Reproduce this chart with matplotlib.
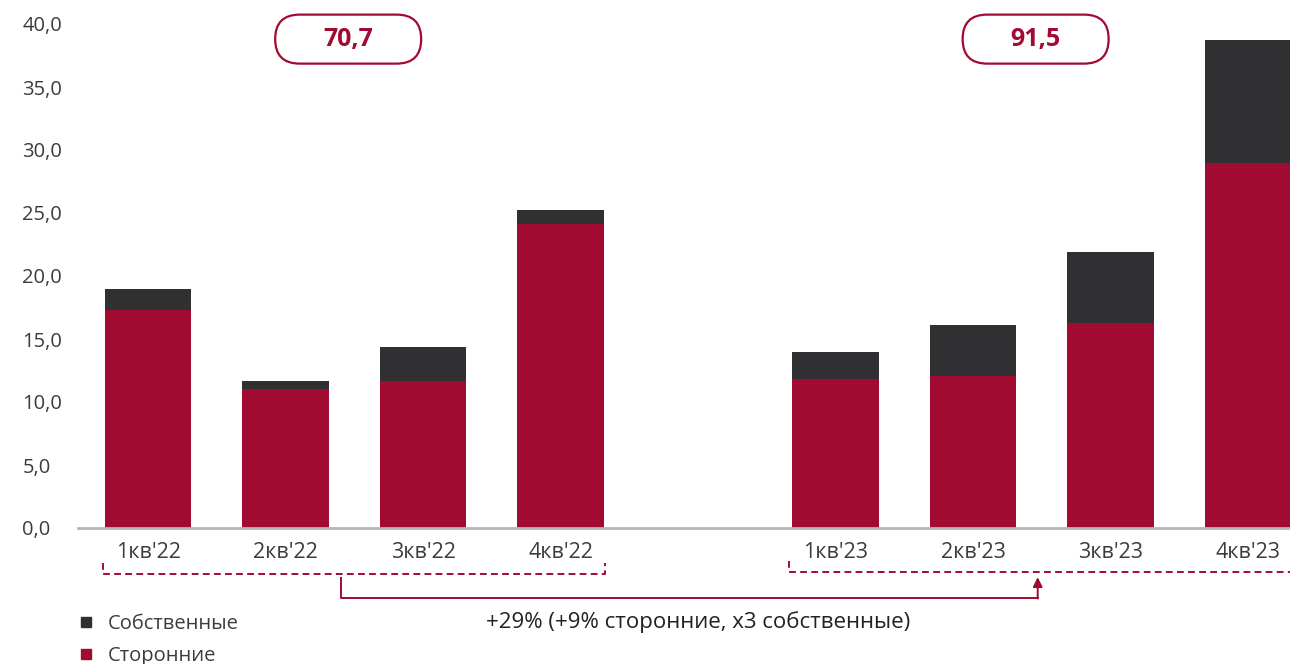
import matplotlib
matplotlib.use("Agg")
import matplotlib.pyplot as plt
import matplotlib.transforms as mtransforms
from matplotlib.patches import FancyBboxPatch
from matplotlib.lines import Line2D
import numpy as np

plt.rcParams["font.family"] = ["Open Sans", "DejaVu Sans"]

quarters_22 = ["1кв'22", "2кв'22", "3кв'22", "4кв'22"]
quarters_23 = ["1кв'23", "2кв'23", "3кв'23", "4кв'23"]
third_party_22 = [17.3, 11.0, 11.7, 24.1]
own_22 = [1.7, 0.7, 2.7, 1.1]
third_party_23 = [11.8, 12.1, 16.3, 29.0]
own_23 = [2.2, 4.0, 5.6, 9.7]
year_totals = ["70,7", "91,5"]
growth_note = "+29% (+9% сторонние, x3 собственные)"

RED = "#A20B31"
DARK = "#302F31"
GRAY_TXT = "#3c3c3c"

labels = quarters_22 + quarters_23
third = np.array(third_party_22 + third_party_23)
own = np.array(own_22 + own_23)
# empty slot between years
x = np.array([0, 1, 2, 3, 5, 6, 7, 8])

fig = plt.figure(figsize=(12.9, 6.64), dpi=100)
ax = fig.add_axes([78 / 1290, 136 / 664, 1212 / 1290, 504 / 664])

w = 0.63
ax.bar(x, third, w, color=RED, label="Сторонние", zorder=2)
ax.bar(x, own, w, bottom=third, color=DARK, label="Собственные", zorder=2)

ax.set_xlim(-0.51, 8.305)
ax.set_ylim(0, 40)
ax.set_yticks(np.arange(0, 41, 5))
ax.set_yticklabels([f"{v:.1f}".replace(".", ",") for v in np.arange(0, 41, 5)])
for lab in ax.get_yticklabels():
    lab.set_ha("left")
ax.tick_params(axis="y", length=0, pad=40, labelsize=14.5, labelcolor=GRAY_TXT)
ax.set_xticks(x)
ax.set_xticklabels(labels)
ax.tick_params(axis="x", length=0, pad=10, labelsize=15.5, labelcolor=GRAY_TXT)
for s in ["top", "right", "left"]:
    ax.spines[s].set_visible(False)
ax.spines["bottom"].set_color("#b5b5b5")
ax.spines["bottom"].set_linewidth(2)

# year total pills
for xc, txt in zip([x[:4].mean(), x[4:].mean()], year_totals):
    tr = fig.dpi_scale_trans + mtransforms.ScaledTranslation(xc - 0.045, 38.8, ax.transData)
    pill = FancyBboxPatch((-0.73, -0.245), 1.46, 0.49,
                          boxstyle="round,pad=0,rounding_size=0.245",
                          transform=tr, facecolor="white", edgecolor=RED,
                          linewidth=1.6, clip_on=False, zorder=5)
    ax.add_patch(pill)
    ax.text(0, 0, txt, transform=tr, ha="center", va="center", fontsize=18,
            fontweight="bold", color=RED, zorder=6)

# dashed brackets under quarters
def bracket(x0, x1, y, ytop):
    ax.plot([x0, x0, x1, x1], [ytop, y, y, ytop], ls=(0, (3.5, 2.2)), color=RED,
            lw=1.4, clip_on=False)

bracket(x[0] - 0.33, x[3] + 0.32, -3.65, -2.8)
bracket(x[4] - 0.34, x[7] + 0.33, -3.5, -2.65)

# growth connector
ax.plot([1.4, 1.4, 6.47], [-3.95, -5.55, -5.55], color=RED, lw=1.4, clip_on=False)
ax.annotate("", xy=(6.47, -3.9), xytext=(6.47, -5.6),
            arrowprops=dict(arrowstyle="-|>", color=RED, lw=1.4,
                            mutation_scale=14, shrinkA=0, shrinkB=0),
            annotation_clip=False)
ax.text(4.0, -7.45, growth_note, ha="center", va="center", fontsize=16,
        color="#222222")

handles = [Line2D([], [], marker="s", ls="none", color=DARK, markersize=7),
           Line2D([], [], marker="s", ls="none", color=RED, markersize=7)]
leg = ax.legend(handles, ["Собственные", "Сторонние"], loc="upper left",
                bbox_to_anchor=(0.0, -0.17), frameon=False, fontsize=14.5,
                handlelength=0.8, handletextpad=0.7, labelspacing=0.62,
                borderpad=0, borderaxespad=0)
for t in leg.get_texts():
    t.set_color(GRAY_TXT)

fig.savefig("out.png", dpi=100)
